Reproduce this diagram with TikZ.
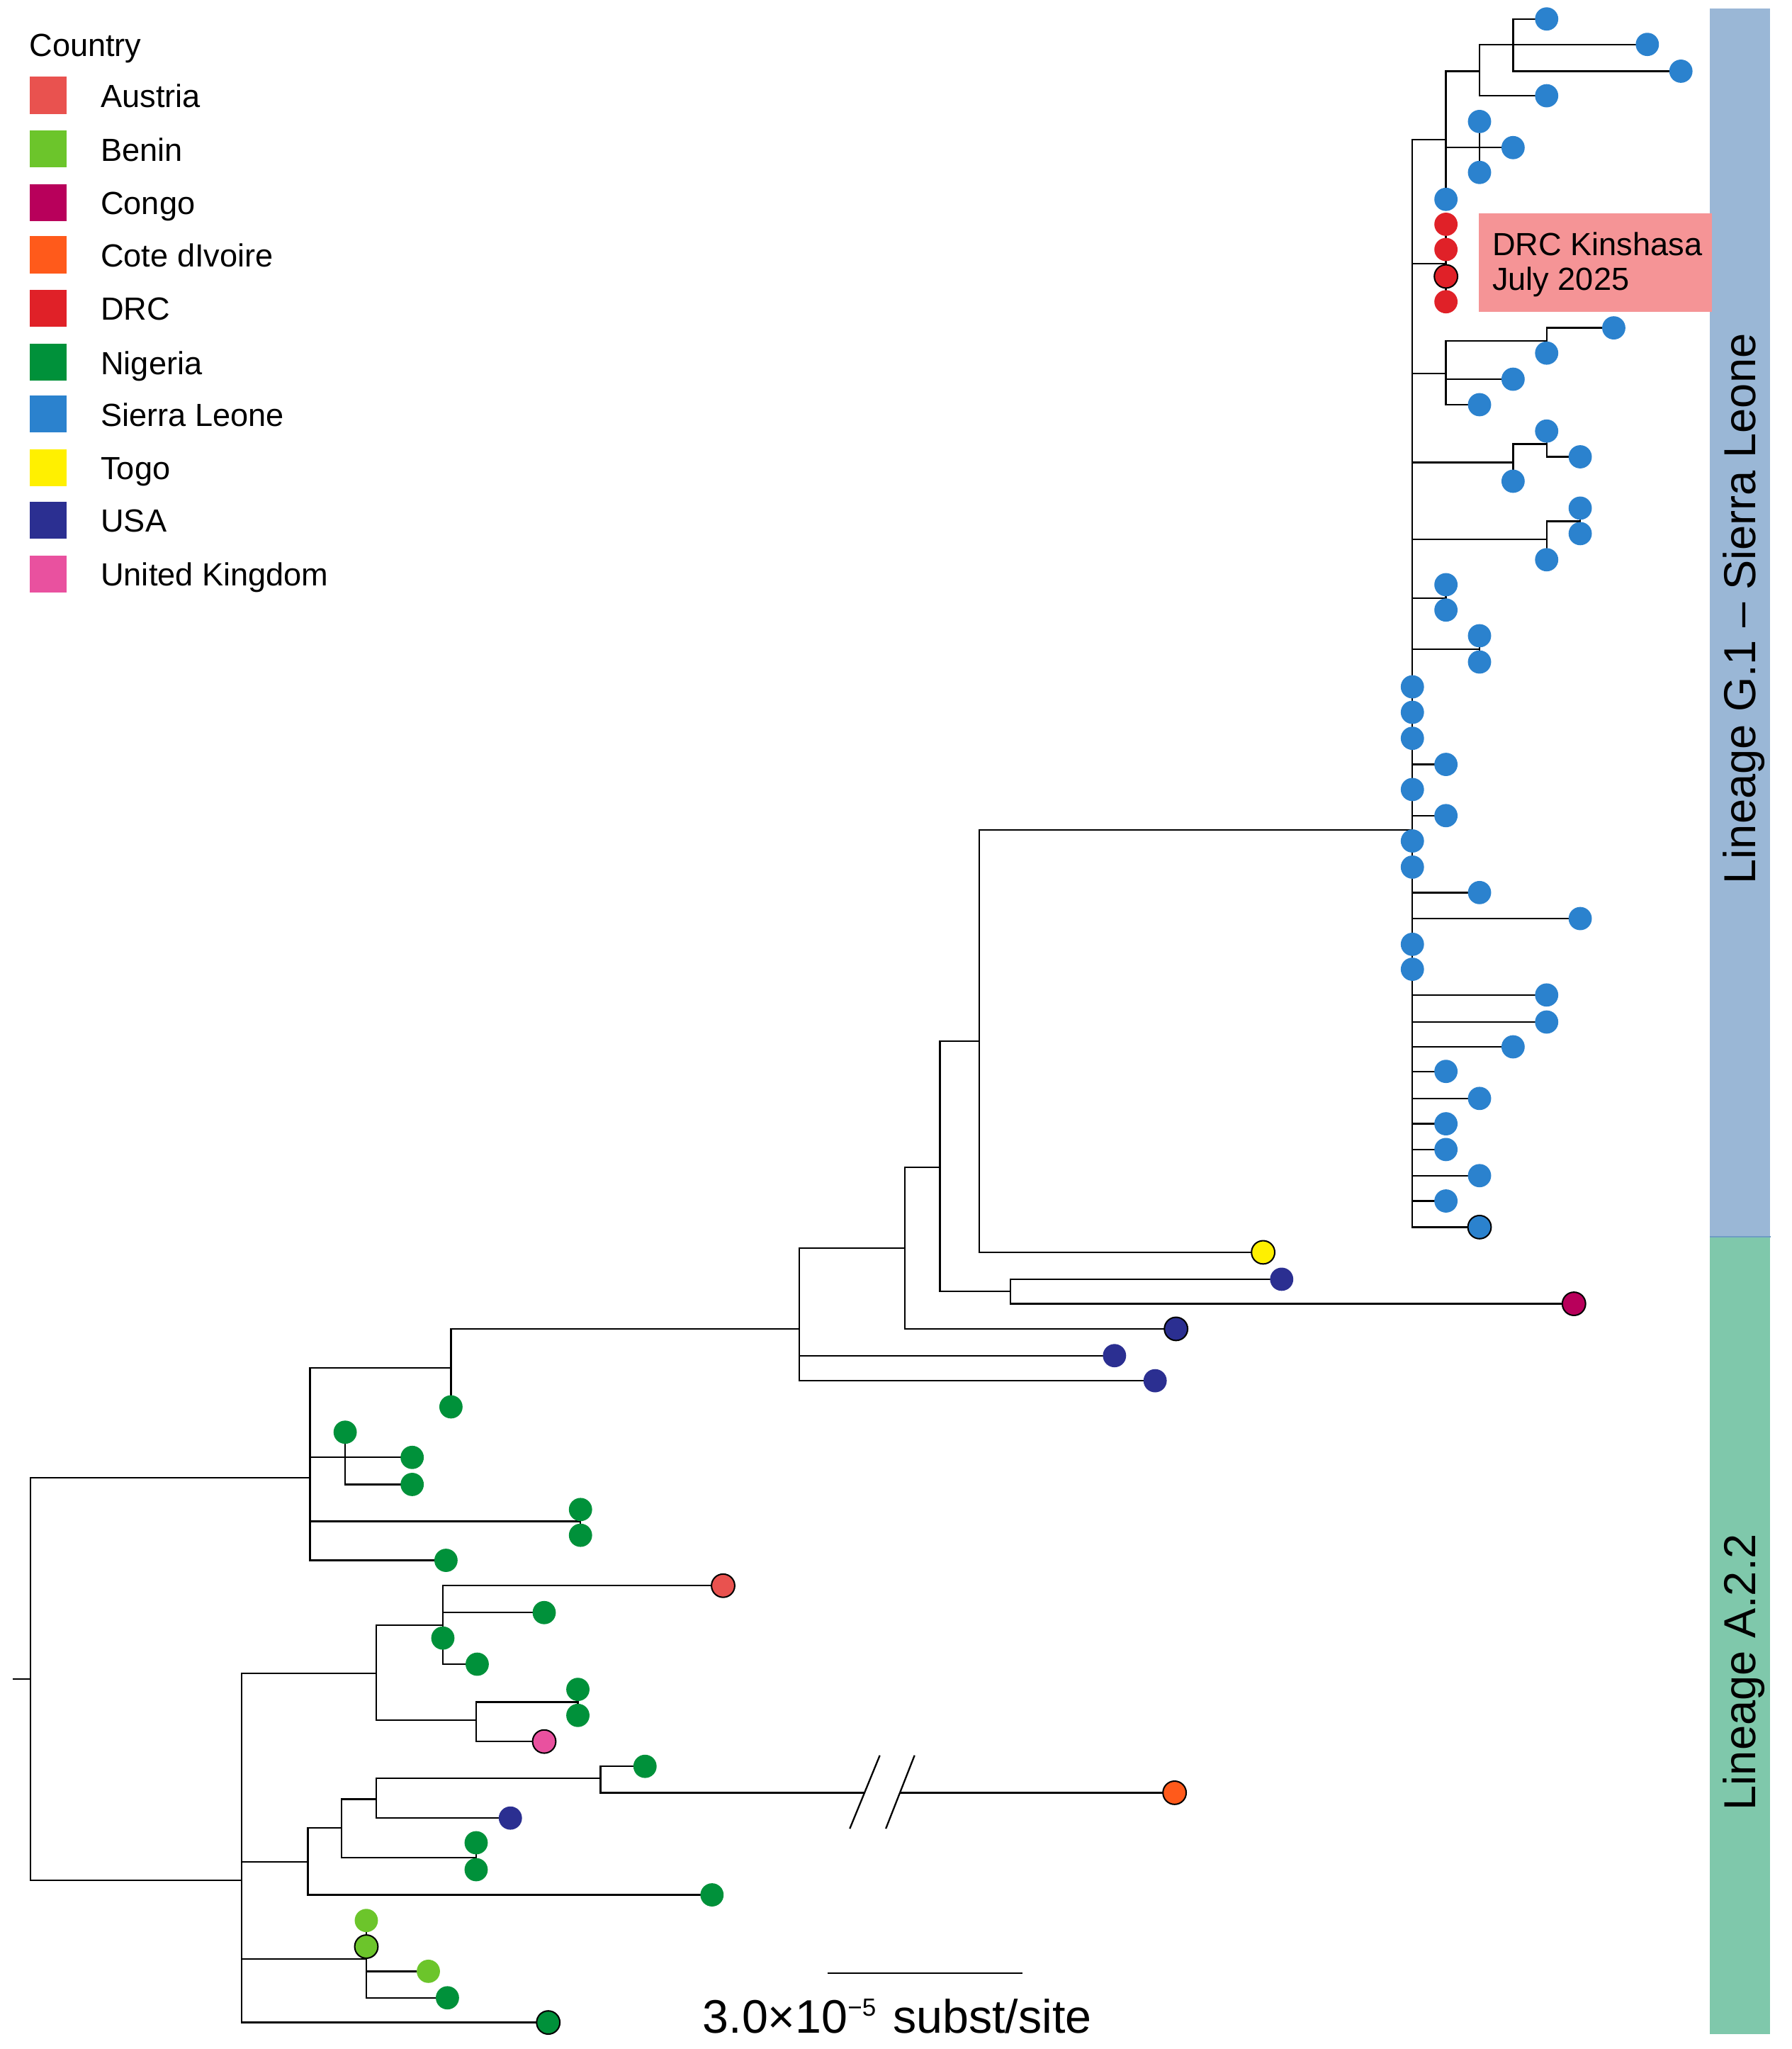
\documentclass[tikz,border=0pt]{standalone}
\usepackage{fontspec}
\setmainfont{Liberation Sans}
\definecolor{austria}{HTML}{E9524F}
\definecolor{benin}{HTML}{6CC52B}
\definecolor{congo}{HTML}{B8005B}
\definecolor{cote}{HTML}{FF5A1B}
\definecolor{drc}{HTML}{E02128}
\definecolor{nigeria}{HTML}{00913A}
\definecolor{sierra}{HTML}{2B82CE}
\definecolor{togo}{HTML}{FFF000}
\definecolor{usa}{HTML}{2B2F91}
\definecolor{uk}{HTML}{E9519F}
\definecolor{barG}{HTML}{9AB7D6}
\definecolor{barA}{HTML}{7FC8AB}
\definecolor{barline}{HTML}{6E9CC4}
\definecolor{drcbox}{HTML}{F59496}
\newcommand\legfont{\fontsize{24.5}{29}\selectfont}
\newcommand\linfont{\fontsize{34.3}{40}\selectfont}
\newcommand\sbfont{\fontsize{36}{42}\selectfont}
\newcommand\supfont{\fontsize{19}{19}\selectfont}
\tikzset{
  branch/.style={line width=1.25pt, black},
  leaf/.style={circle, inner sep=0pt, minimum size=17.8pt, fill=#1},
  leafo/.style={leaf=#1, draw=black, line width=1.1pt},
  legsq/.style={fill=#1, minimum width=28.4pt, minimum height=28.3pt, inner sep=0pt, anchor=north west},
  legtxt/.style={anchor=base west, font=\legfont, inner sep=0pt, text=black},
  lintxt/.style={rotate=90, anchor=base, font=\linfont, inner sep=0pt, text=black},
}
\begin{document}
\begin{tikzpicture}[x=1pt,y=-1pt]
\useasboundingbox (0,0) rectangle (1371.7,1568.6);

% lineage bars
\node[fill=barG, inner sep=0pt, minimum width=46.1pt, minimum height=940.7pt, anchor=north west] (barg) at (1309.3,6.3) {};
\node[fill=barA, inner sep=0pt, minimum width=46.1pt, minimum height=610.2pt, anchor=north west] (bara) at (1309.3,947) {};
\draw[barline, line width=1pt] (bara.north west) -- (bara.north east);
\node[lintxt] (lg) at (1344,466) {Lineage G.1 – Sierra Leone};
\node[lintxt] (la) at (1344,1280) {Lineage A.2.2};

% DRC box
\node[fill=drcbox, inner sep=0pt, minimum width=178.8pt, minimum height=75.5pt, anchor=north west] (drcb) at (1131.9,163.2) {};
\node[legtxt] (drc1) at (1142.5,195.5) {DRC Kinshasa};
\node[legtxt] (drc2) at (1142.5,222.3) {July 2025};

% legend
\node[legtxt] (legt) at (22.3,43.2) {Country};
\foreach \nm/\col/\yy in {Austria/austria/58.6, Benin/benin/99.7, Congo/congo/140.8, Cote dIvoire/cote/180.7, DRC/drc/221.7, Nigeria/nigeria/263.1, Sierra Leone/sierra/302.7, Togo/togo/343.8, USA/usa/383.9, United Kingdom/uk/425}{
  \node[legsq=\col] (sq\col) at (22.5,\yy) {};
  \node[legtxt] (lt\col) at (77,\yy+23.5) {\nm};
}

% ---------- coordinates: G.1 clade ----------
\foreach \n/\x/\y in {
  D/1158.6/34, C/1132.9/54.5, E/1132.9/113, B/1107.2/107, DRCn/1107.2/202,
  G/1184.3/261, F/1107.2/286, I/1184.3/340, H/1158.6/354, K/1210/399, J/1184.3/413,
  Lc/1107.2/457.8, M/1132.9/497, A/1081.5/635.2,
  t1/1184.3/14.5, t2/1261.4/34, t3/1287.1/54.5, t4/1184.3/73.3,
  t5/1132.9/93, t6/1158.6/113, t7/1132.9/132, t8/1107.2/152.6,
  d1/1107.2/171.7, d2/1107.2/191, d3/1107.2/211.6, d4/1107.2/231,
  t9/1235.7/251, t10/1184.3/270.3, t11/1158.6/290.3, t12/1132.9/309.8,
  t13/1184.3/330, t14/1210/349.7, t15/1158.6/368.4,
  t16/1210/389, t17/1210/408.5, t18/1184.3/428.5,
  t19/1107.2/447.6, t20/1107.2/467, t21/1132.9/486.7, t22/1132.9/506.8,
  t23/1081.5/525.8, t24/1081.5/545.3, t25/1081.5/565.2, t26/1107.2/585.2,
  t27/1081.5/604.4, t28/1107.2/624.4, t29/1081.5/643.8, t30/1081.5/663.8,
  t31/1132.9/683.3, t32/1210/703.2, t33/1081.5/722.9, t34/1081.5/742,
  t35/1184.3/761.7, t36/1184.3/782.4, t37/1158.6/801.4, t38/1107.2/820.2,
  t39/1132.9/840.9, t40/1107.2/860.3, t41/1107.2/880, t42/1132.9/900,
  t43/1107.2/919.4, t44/1132.9/939.4}
  \coordinate (\n) at (\x,\y);

% ---------- coordinates: rest of tree ----------
\foreach \n/\x/\y in {
  rootstub/9.9/1285.5, root/23.2/1285.5, S/237.3/1131.3, W/185.2/1439.3,
  T/345.3/1047.2, R/612/1017.3, Q/692.9/955.5, O/719.8/893.5, N/750/797, P/773.8/988.6,
  U/264.3/1115.7, V/444.5/1164.6, X/288.2/1281, Y/339.1/1244, Z/364.6/1317, Zb/442.5/1303,
  AA/235.7/1425.3, AB/261.6/1399.4, AC/288.2/1377.4, AD/459.9/1361.5, AE/364.6/1422, AF/280.5/1499.5,
  togo/967.2/958.7, u5/981.4/979.3, congo/1205.2/998.1, u4/900.5/1017.3,
  u2/853.4/1037.8, u3/884.5/1057, u1/345.3/1077,
  u6/264.3/1096.4, u7/315.6/1115.7, u8/315.6/1136.4, u9/444.5/1155.6, u10/444.5/1175.3, u11/341.5/1194.5,
  austria/553.7/1213.9, u12/416.7/1234.5, u13/339.1/1254, u14/365.4/1274,
  u15/442.5/1293.3, u16/442.5/1313.2, uk/416.7/1333.2,
  u19/493.9/1352.2, brkL/662/1372.4, brkR/689.1/1372.4, cote/899.4/1372.4,
  u18/390.8/1391.8, u20/364.6/1410.7, u21/364.6/1431.3, u17/545.2/1450.6,
  b1/280.5/1470.2, b2/280.5/1490.2, b3/328/1509.1, u22/342.6/1529.4, u23/419.8/1548.3,
  s1a/673.7/1343.8, s1b/650.7/1399.9, s2a/700.3/1343.8, s2b/678.3/1399.9,
  sbL/633.8/1510.6, sbR/782.7/1510.6}
  \coordinate (\n) at (\x,\y);

% ---------- branches ----------
\foreach \p/\c in {
  D/t1, D/t2, D/t3, C/D, C/t4, E/t5, E/t6, E/t7, B/C, B/E, B/t8,
  DRCn/d1, DRCn/d2, DRCn/d3, DRCn/d4,
  G/t9, G/t10, F/G, F/t11, F/t12, I/t13, I/t14, H/I, H/t15,
  K/t16, K/t17, J/K, J/t18, Lc/t19, Lc/t20, M/t21, M/t22,
  A/B, A/DRCn, A/F, A/H, A/J, A/Lc, A/M,
  A/t23, A/t24, A/t25, A/t26, A/t27, A/t28, A/t29, A/t30, A/t31, A/t32, A/t33,
  A/t34, A/t35, A/t36, A/t37, A/t38, A/t39, A/t40, A/t41, A/t42, A/t43, A/t44,
  N/A, N/togo, P/u5, P/congo, O/N, O/P, Q/O, Q/u4, R/Q, R/u2, R/u3, T/R, T/u1,
  U/u6, U/u7, U/u8, V/u9, V/u10, S/T, S/U, S/V, S/u11,
  Y/austria, Y/u12, Y/u13, Y/u14, Zb/u15, Zb/u16, Z/Zb, Z/uk, X/Y, X/Z,
  AD/u19, AD/brkL, AC/AD, AC/u18, AE/u20, AE/u21, AB/AC, AB/AE, AA/AB, AA/u17,
  AF/b1, AF/b2, AF/b3, AF/u22, W/X, W/AA, W/AF, W/u23, root/S, root/W}
  \draw[branch] (\p) |- (\c);
\draw[branch] (rootstub) -- (root);
\draw[branch] (brkR) -- (cote);
\draw[branch] (s1a) -- (s1b);
\draw[branch] (s2a) -- (s2b);

% ---------- tips ----------
\foreach \t in {t1,t2,t3,t4,t5,t6,t7,t8,t9,t10,t11,t12,t13,t14,t15,t16,t17,t18,t19,t20,
  t21,t22,t23,t24,t25,t26,t27,t28,t29,t30,t31,t32,t33,t34,t35,t36,t37,t38,t39,t40,t41,t42,t43}
  \node[leaf=sierra] (n\t) at (\t) {};
\node[leafo=sierra] (nt44) at (t44) {};
\foreach \t in {d1,d2,d4} \node[leaf=drc] (n\t) at (\t) {};
\node[leafo=drc] (nd3) at (d3) {};
\node[leafo=togo] (ntogo) at (togo) {};
\foreach \t in {u5,u2,u3,u18} \node[leaf=usa] (n\t) at (\t) {};
\node[leafo=usa] (nu4) at (u4) {};
\node[leafo=congo] (ncongo) at (congo) {};
\foreach \t in {u1,u6,u7,u8,u9,u10,u11,u12,u13,u14,u15,u16,u19,u20,u21,u17,u22}
  \node[leaf=nigeria] (n\t) at (\t) {};
\node[leafo=nigeria] (nu23) at (u23) {};
\node[leafo=austria] (naustria) at (austria) {};
\node[leafo=uk] (nuk) at (uk) {};
\node[leafo=cote] (ncote) at (cote) {};
\foreach \t in {b1,b3} \node[leaf=benin] (n\t) at (\t) {};
\node[leafo=benin] (nb2) at (b2) {};

% ---------- scale bar ----------
\draw[line width=1.4pt] (sbL) -- (sbR);
\node[anchor=base, font=\sbfont, inner sep=0pt] (sbt) at (687,1556.3) {3.0×10\raisebox{12.7pt}{\supfont −5}\hspace{3pt} subst/site};
\end{tikzpicture}
\end{document}
